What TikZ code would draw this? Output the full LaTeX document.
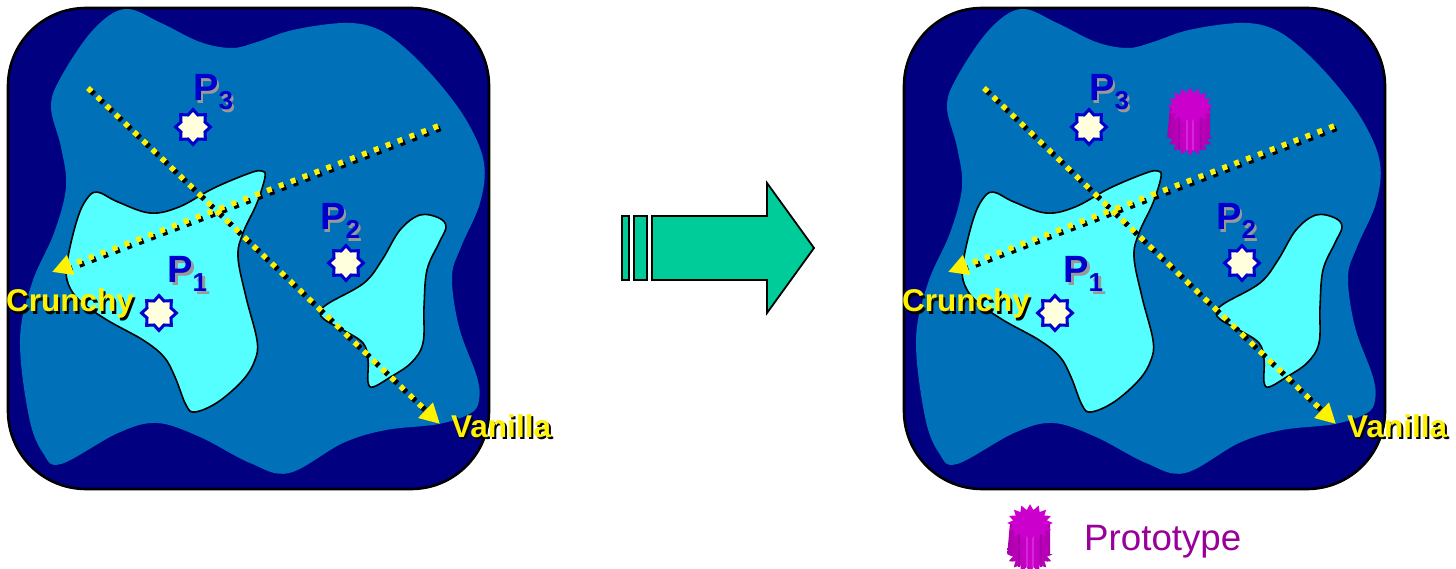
\documentclass[tikz,border=0pt]{standalone}
\usepackage{fontspec}
\setmainfont{Liberation Sans}
\usepackage{tikz}
\usetikzlibrary{arrows.meta,shapes.geometric}
\definecolor{panelnavy}{RGB}{0,0,128}
\definecolor{tasteblue}{RGB}{0,112,184}
\definecolor{likedcyan}{RGB}{85,255,255}
\definecolor{pointblue}{RGB}{0,0,204}
\definecolor{pointfill}{RGB}{255,255,221}
\definecolor{arrowgreen}{RGB}{0,204,153}
\definecolor{protomag}{RGB}{204,0,204}
\definecolor{protodark}{RGB}{170,0,170}
\definecolor{prototext}{RGB}{153,0,153}
\newcommand{\pname}[1]{P\raisebox{-9pt}{\fontsize{26}{26}\selectfont #1}}
\tikzset{
  likedblob/.style={draw=black,line width=1.6pt,fill=likedcyan},
  axisshadow/.style={draw=black,line width=5.5pt,dash pattern=on 5pt off 7.7pt,shorten >=16pt},
  axisline/.style={draw=yellow,line width=5.5pt,dash pattern=on 5pt off 7.7pt,
    -{Triangle[length=20pt,width=20pt,fill=yellow]}},
  pointstar/.style={star,star points=8,star point ratio=1.35,minimum size=35pt,inner sep=0pt,
    draw=pointblue,line width=3pt,fill=pointfill},
  pointlabel/.style={anchor=base west,inner sep=0pt,text=pointblue,font=\fontsize{38}{40}\selectfont\bfseries},
  pointshadow/.style={pointlabel,text=black!40},
  axislabel/.style={anchor=base west,inner sep=0pt,text=yellow,font=\fontsize{31.5}{33}\selectfont\bfseries},
  axisdrop/.style={axislabel,text=black},
  greenarrow/.style={draw=black,line width=1.8pt,fill=arrowgreen},
  tastemap/.pic={
    \draw[black,line width=2.6pt,fill=panelnavy,rounded corners=78pt] (8,8) rectangle (489,489);
    \fill[tasteblue] plot[smooth cycle,tension=0.6] coordinates {(125,9) (161,23) (200,42) (232,48) (257,42) (293,30) (343,23) (375,28) (404,47) (439,83) (468,123) (484,163) (480,203) (461,247) (452,277) (459,327) (477,377) (479,400) (471,413) (439,424) (386,430) (343,443) (289,473) (250,463) (200,437) (157,423) (118,433) (61,464) (43,453) (29,417) (20,340) (32,283) (54,233) (66,187) (61,147) (51,107) (61,77) (93,30)};
    \draw[likedblob] plot[smooth cycle,tension=0.6] coordinates {(97,192) (118,202) (150,213) (179,207) (214,188) (250,173) (262,171) (265,177) (257,203) (243,233) (238,257) (246,297) (257,340) (255,360) (243,380) (218,402) (195,412) (186,405) (175,377) (164,357) (143,340) (107,320) (79,300) (67,280) (68,257) (77,220) (86,200)};
    \draw[likedblob] plot[smooth cycle,tension=0.6] coordinates {(420,215) (439,218) (446,227) (439,243) (427,270) (424,307) (423,343) (411,363) (389,378) (373,387) (368,382) (368,360) (363,343) (343,330) (325,320) (320,312) (329,303) (364,283) (382,260) (400,230)};
    % the two taste axes
    \coordinate (-vstart) at (88,88);
    \coordinate (-vend) at (440,424);
    \coordinate (-cstart) at (438,126);
    \coordinate (-cend) at (52,272);
    \draw[axisshadow] ([shift={(2.5,2.5)}]-vstart) -- ([shift={(2.5,2.5)}]-vend);
    \draw[axisshadow] ([shift={(2.5,2.5)}]-cstart) -- ([shift={(2.5,2.5)}]-cend);
    \draw[axisline] (-vstart) -- (-vend);
    \draw[axisline] (-cstart) -- (-cend);
    \node[pointshadow] (-p1s) at (170,286) {\pname{1}};
    \node[pointlabel] (-p1) at (167,283) {\pname{1}};
    \node[pointshadow] (-p2s) at (322,233) {\pname{2}};
    \node[pointlabel] (-p2) at (320,230) {\pname{2}};
    \node[pointshadow] (-p3s) at (195,104) {\pname{3}};
    \node[pointlabel] (-p3) at (193,101) {\pname{3}};
    \node[pointstar] (-star1) at (159,313) {};
    \node[pointstar] (-star2) at (346,263) {};
    \node[pointstar] (-star3) at (193,127) {};
    \node[axisdrop] (-crunchys) at (8,314) {Crunchy};
    \node[axislabel] (-crunchy) at (6,312) {Crunchy};
    \node[axisdrop] (-vanillas) at (453,439) {Vanilla};
    \node[axislabel] (-vanilla) at (451,437) {Vanilla};
  },
  protodrum/.pic={
    \shade[left color=protodark,right color=protodark,middle color=protomag]
      (-20,0) -- (20,0) -- (20,31) -- plot[samples=33,domain=0:180] ({(20+2.8*cos(16*\x))*cos(\x)},{31+(16+2.8*cos(16*\x))*sin(\x)}) -- cycle;
    \foreach \xa/\ca in {-11/protodark,-3/protomag!85!white,3/protomag!85!white,11/protodark}{
      \draw[\ca,line width=1.5pt] (\xa,10) -- (\xa,44);
    }
    \fill[protomag] plot[samples=33,domain=0:360] ({(20+2.8*cos(16*\x))*cos(\x)},{(16+2.8*cos(16*\x))*sin(\x)}) -- cycle;
  }
}
\begin{document}
\begin{tikzpicture}[x=1pt,y=-1pt]
\useasboundingbox (0,0) rectangle (1456,569);
\pic (lf) at (0,0) {tastemap};
\pic (rt) at (896,0) {tastemap};
% arrow between the two maps
\draw[greenarrow] (622,216) rectangle (629,280);
\draw[greenarrow] (634,216) rectangle (647,280);
\draw[greenarrow] (652,216) -- (767,216) -- (767,183) -- (814,248) -- (767,313) -- (767,280) -- (652,280) -- cycle;
\pic (proto) at (1190,106) {protodrum};
\pic (legend) at (1030,523) {protodrum};
\node[anchor=base west,inner sep=0pt,text=prototext,font=\fontsize{36.7}{38}\selectfont] (legendtext) at (1084,550) {Prototype};
\end{tikzpicture}
\end{document}
